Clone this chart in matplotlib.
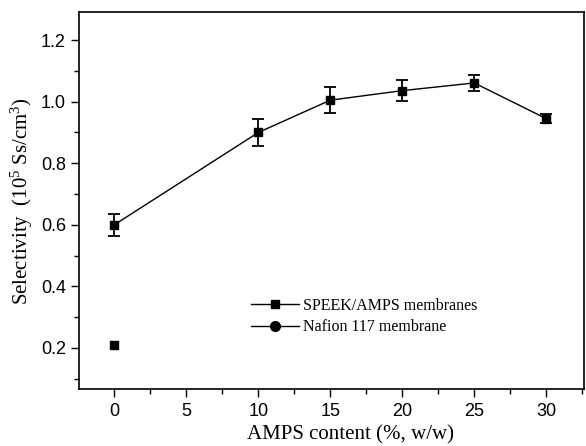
import numpy as np
import matplotlib
matplotlib.use("Agg")
import matplotlib.pyplot as plt
from matplotlib.ticker import MultipleLocator
from matplotlib.lines import Line2D

# data
ampsContent = [0, 10, 15, 20, 25, 30]
selectivity = [0.600, 0.900, 1.005, 1.036, 1.061, 0.945]
selectivityErr = [0.035, 0.045, 0.043, 0.034, 0.027, 0.015]

nafionX = [0]
nafionY = [0.21]
nafionErr = [0.01]

plt.rcParams['mathtext.fontset'] = 'custom'
plt.rcParams['mathtext.rm'] = 'Liberation Serif'
plt.rcParams['mathtext.it'] = 'Liberation Serif:italic'

fig = plt.figure(figsize=(5.86, 4.46), dpi=100)
ax = fig.add_axes([0.135, 0.127, 0.861, 0.845])

# SPEEK/AMPS series
ax.errorbar(ampsContent, selectivity, yerr=selectivityErr, color='black',
            marker='s', markersize=6, linewidth=1, elinewidth=1.3,
            capsize=4, capthick=1.3)
# Nafion reference point
ax.errorbar(nafionX, nafionY, yerr=nafionErr, color='black',
            marker='s', markersize=6, linewidth=1, elinewidth=1.3,
            capsize=3, capthick=1.3)

ax.set_xlim(-2.45, 32.6)
ax.set_ylim(0.065, 1.29)
ax.xaxis.set_major_locator(MultipleLocator(5))
ax.xaxis.set_minor_locator(MultipleLocator(2.5))
ax.yaxis.set_minor_locator(MultipleLocator(0.1))
ax.set_yticks([0.2, 0.4, 0.6, 0.8, 1.0, 1.2])

ax.tick_params(which='both', direction='out', top=False, right=False, width=1)
ax.tick_params(which='major', length=6)
ax.tick_params(which='minor', length=3.5)
for lbl in ax.get_xticklabels() + ax.get_yticklabels():
    lbl.set_family('Liberation Sans')
    lbl.set_fontsize(13)

for sp in ax.spines.values():
    sp.set_linewidth(1.2)

ax.set_xlabel('AMPS content (%, w/w)', family='Liberation Serif', fontsize=15,
              labelpad=4, x=0.537)
ax.set_ylabel(r'Selectivity  (10$^5$ Ss/cm$^3$)', family='Liberation Serif', fontsize=15, labelpad=4)

# legend handles: line + marker only
handles = [
    Line2D([], [], color='black', marker='s', markersize=6, linewidth=1),
    Line2D([], [], color='black', marker='o', markersize=7, linewidth=1),
]
labels = ['SPEEK/AMPS membranes', 'Nafion 117 membrane']
ax.legend(handles, labels, loc='lower left', bbox_to_anchor=(0.313, 0.105), frameon=False,
          prop={'family': 'Liberation Serif', 'size': 11.5},
          handlelength=3.0, handletextpad=0.2, labelspacing=0.35)

fig.savefig('out.png', dpi=100)
